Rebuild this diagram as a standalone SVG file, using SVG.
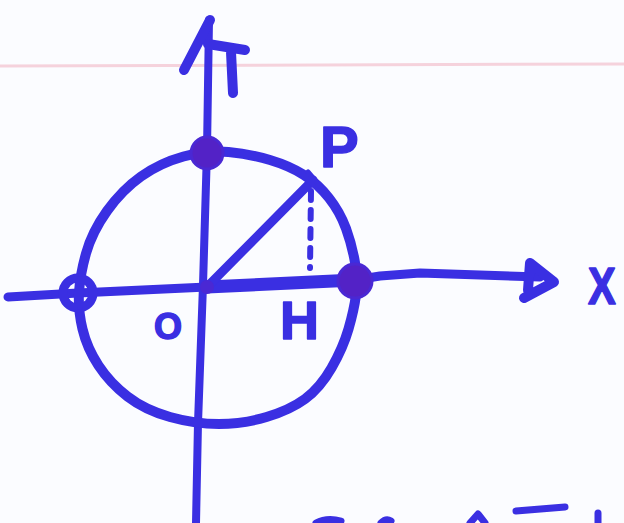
<svg xmlns="http://www.w3.org/2000/svg" width="624" height="523" viewBox="0 0 624 523">
<style>
.ink{fill:none;stroke:#3a2fe2;stroke-linecap:round;stroke-linejoin:round}
.dot{fill:#5322c6;stroke:#4a28d4;stroke-width:3}
.lbl{font-family:"Liberation Sans",Arial,sans-serif;font-weight:bold;fill:#3a2fe2;stroke:#3a2fe2;stroke-width:1.5;stroke-linejoin:round}
</style>
<rect width="624" height="523" fill="#fbfcff"/>
<line x1="0" y1="66" x2="624" y2="64" stroke="#f5d2dc" stroke-width="3"/>
<g id="connectors">
  <path id="y-axis" class="ink" stroke-width="8" d="M209,20 L207,150 L203,285 L198,423 L196,523"/>
  <path id="y-arrowhead" class="ink" stroke-width="10" d="M210,20 L184,70 M208,44 L245,50 M231,52 L233,93"/>
  <path id="x-axis-left" class="ink" stroke-width="9" d="M8,297 L78,293 L207,287"/>
  <path id="x-axis-right" class="ink" stroke-width="9" d="M355,280 L380,276 L420,273 L540,277"/>
  <path id="x-arrowhead" class="ink" stroke-width="10" d="M530,263 L554,282 L524,298 M530,263 L528,290"/>
  <path id="OH" class="ink" stroke-width="13" d="M207,287 L355,280"/>
  <path id="OP" class="ink" stroke-width="9" d="M207,287 L313,180"/>
  <path id="PH" class="ink" stroke-width="6" stroke-dasharray="9,10" d="M311,191 L310,268"/>
</g>
<g id="circle">
  <path class="ink" stroke-width="10" d="M228.5,152 Q250,154 270,160 Q290,166 304,175 Q318,184 329,198 Q340,212 346,228.5 Q352,245 355,262.5 Q358,280 356,295 Q354,310 348.5,329 Q343,348 331.5,368 Q320,388 305,399 Q290,410 266.5,417 Q243,424 219,424 Q195,424 170,417 Q145,410 127.5,396.5 Q110,383 98.5,365.5 Q87,348 82.5,329 Q78,310 79,292.5 Q80,275 86,253.5 Q92,232 107,211 Q122,190 141,176.5 Q160,163 183.5,156.5 Q207,150 228.5,152 Z"/>
  <path class="ink" stroke-width="5" d="M308,172 L320,186 M348,228 L351,240"/>
</g>
<g id="point-top"><circle class="dot" cx="207" cy="153" r="16"/></g>
<g id="point-right"><circle class="dot" cx="355" cy="281" r="17"/></g>
<g id="point-left">
  <circle class="ink" stroke-width="9" cx="78" cy="293" r="15"/>
  <path class="ink" stroke-width="6" d="M80,279 L80,307"/>
</g>
<g id="point-O"><circle cx="207" cy="287" r="7" fill="#4a28d4"/></g>
<g id="label-P"><text class="lbl" x="320" y="167" font-size="58">P</text></g>
<g id="label-H"><text class="lbl" x="280" y="339" font-size="54">H</text></g>
<g id="label-O"><text class="lbl" x="154" y="339" font-size="36">O</text></g>
<g id="label-X"><text class="lbl" x="0" y="0" font-size="52" transform="translate(588,304) scale(0.8,1)">X</text></g>
<g id="bottom-marks">
  <path class="ink" stroke-width="7" d="M316,523 Q327,517 341,521 M381,523 Q386,518 391,521 M470,523 L478,514 L485,523 M516,511 L565,507 M598,513 L598,523"/>
</g>
</svg>
